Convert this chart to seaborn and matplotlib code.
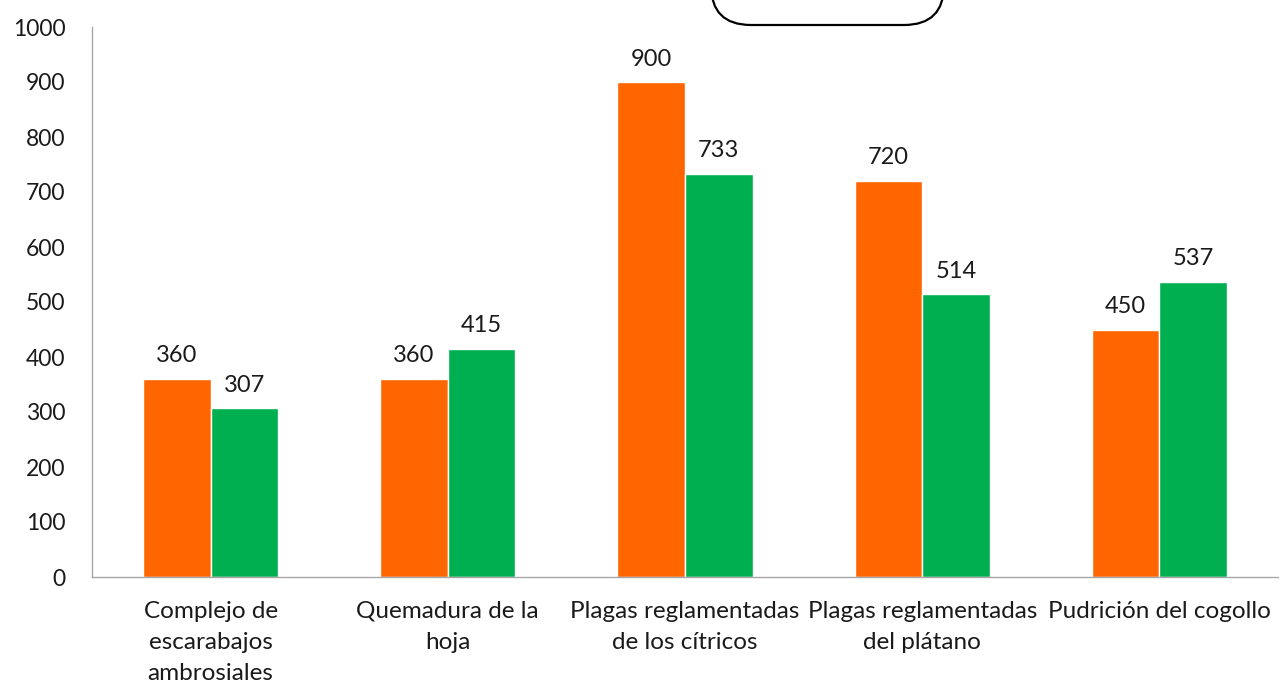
import matplotlib
matplotlib.use("Agg")
import matplotlib.pyplot as plt
from matplotlib.patches import FancyBboxPatch
from matplotlib.transforms import IdentityTransform
import seaborn as sns
import pandas as pd

# Datos
categorias = [
    "Complejo de\nescarabajos\nambrosiales",
    "Quemadura de la\nhoja",
    "Plagas reglamentadas\nde los cítricos",
    "Plagas reglamentadas\ndel plátano",
    "Pudrición del cogollo",
]
serie_1 = [360, 360, 900, 720, 450]
serie_2 = [307, 415, 733, 514, 537]
nombres_series = ["Serie 1", "Serie 2"]
colores = ["#FF6600", "#00B050"]
yticks = [0, 100, 200, 300, 400, 500, 600, 700, 800, 900, 1000]

df = pd.DataFrame({
    "categoria": categorias * 2,
    "valor": serie_1 + serie_2,
    "serie": [nombres_series[0]] * len(categorias) + [nombres_series[1]] * len(categorias),
})

sns.set_style("white")
plt.rcParams["font.family"] = ["Lato", "DejaVu Sans"]

fig = plt.figure(figsize=(12.8, 6.88), dpi=100)
ax = fig.add_axes([92 / 1280, 1 - 577 / 688, (1278 - 92) / 1280, (577 - 27) / 688])

sns.barplot(data=df, x="categoria", y="valor", hue="serie", palette=colores,
            width=0.57, saturation=1, ax=ax, legend=False)

for cont in ax.containers:
    ax.bar_label(cont, labels=[str(int(v)) for v in cont.datavalues],
                 padding=9, fontsize=17, color="#1a1a1a")

ax.set_xlim(-0.5, len(categorias) - 0.5)
ax.set_ylim(0, 1000)
ax.set_yticks(yticks)
ax.set_xlabel("")
ax.set_ylabel("")

# marcas entre categorías, etiquetas centradas
ax.set_xticks([i - 0.5 for i in range(len(categorias) + 1)])
ax.set_xticklabels([])
ax.set_xticks(range(len(categorias)), minor=True)
ax.set_xticklabels(categorias, minor=True, fontsize=17.5, color="#1a1a1a", linespacing=1.6)
ax.tick_params(axis="x", which="minor", length=0, pad=17)
ax.tick_params(axis="x", which="major", length=7, width=1, color="#a6a6a6", direction="out")
ax.tick_params(axis="y", length=7, width=1, color="#a6a6a6", direction="out",
               labelsize=16.5, labelcolor="#1a1a1a", pad=12)

for s in ["top", "right"]:
    ax.spines[s].set_visible(False)
for s in ["left", "bottom"]:
    ax.spines[s].set_color("#a6a6a6")
    ax.spines[s].set_linewidth(1)

# recuadro redondeado cortado en la parte superior
caja = FancyBboxPatch((711, 688 - 25), 233, 90,
                      boxstyle="round,pad=0,rounding_size=40",
                      transform=IdentityTransform(), facecolor="white",
                      edgecolor="black", linewidth=1.6, clip_on=False)
fig.add_artist(caja)

fig.savefig("out.png", dpi=100)
